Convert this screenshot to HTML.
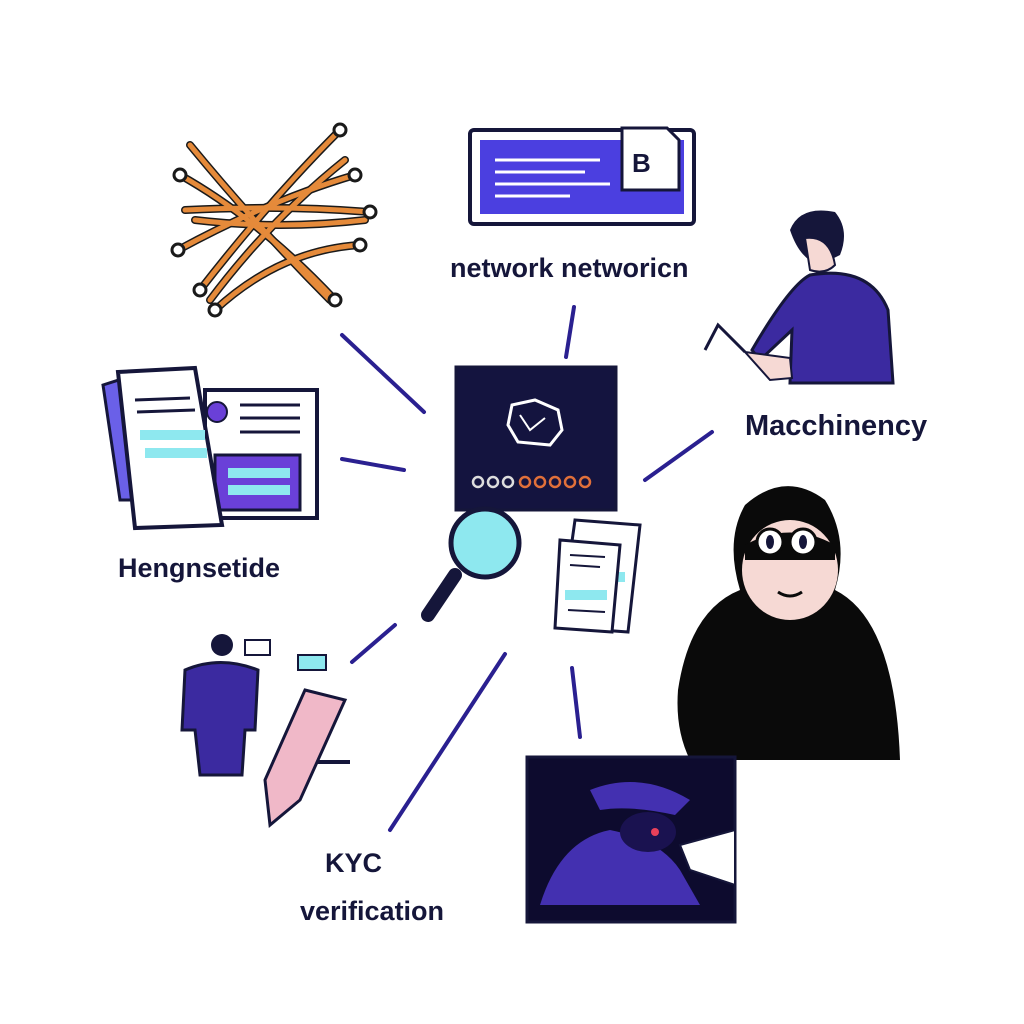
<!DOCTYPE html>
<html><head><style>
html,body{margin:0;padding:0;background:#fff;width:1024px;height:1024px;overflow:hidden}
svg{display:block}
text{font-family:"Liberation Sans",sans-serif;font-weight:bold;fill:#15163a}
</style></head><body>
<svg width="1024" height="1024" viewBox="0 0 1024 1024">
<rect width="1024" height="1024" fill="#fff"/>
<!-- connectors -->
<g stroke="#2a2090" stroke-width="4" stroke-linecap="round">
<line x1="342" y1="335" x2="424" y2="412"/>
<line x1="342" y1="459" x2="404" y2="470"/>
<line x1="574" y1="307" x2="566" y2="357"/>
<line x1="712" y1="432" x2="645" y2="480"/>
<line x1="395" y1="625" x2="352" y2="662"/>
<line x1="505" y1="654" x2="390" y2="830"/>
<line x1="572" y1="668" x2="580" y2="737"/>
</g>
<!-- tangle -->
<g stroke="#1a1a1a" stroke-width="8" stroke-linecap="round" fill="none">
<path d="M180 175 Q260 220 335 300"/><path d="M200 290 Q270 200 340 130"/>
<path d="M185 210 Q280 205 370 212"/><path d="M178 250 Q270 200 355 175"/>
<path d="M215 310 Q280 250 360 245"/><path d="M190 145 Q260 230 330 300"/>
<path d="M195 220 Q280 230 365 220"/><path d="M210 300 Q270 220 345 160"/>
</g>
<g stroke="#e58a3a" stroke-width="5" stroke-linecap="round" fill="none">
<path d="M180 175 Q260 220 335 300"/><path d="M200 290 Q270 200 340 130"/>
<path d="M185 210 Q280 205 370 212"/><path d="M178 250 Q270 200 355 175"/>
<path d="M215 310 Q280 250 360 245"/><path d="M190 145 Q260 230 330 300"/>
<path d="M195 220 Q280 230 365 220"/><path d="M210 300 Q270 220 345 160"/>
</g>
<g fill="#fff" stroke="#1a1a1a" stroke-width="3">
<circle cx="180" cy="175" r="6"/><circle cx="335" cy="300" r="6"/><circle cx="200" cy="290" r="6"/><circle cx="340" cy="130" r="6"/>
<circle cx="370" cy="212" r="6"/><circle cx="178" cy="250" r="6"/><circle cx="355" cy="175" r="6"/><circle cx="215" cy="310" r="6"/><circle cx="360" cy="245" r="6"/>
</g>
<!-- top panel -->
<rect x="470" y="130" width="224" height="94" rx="4" fill="#fff" stroke="#15163a" stroke-width="4"/>
<rect x="480" y="140" width="204" height="74" fill="#4b3fe0"/>
<g stroke="#fff" stroke-width="3"><line x1="495" y1="160" x2="600" y2="160"/><line x1="495" y1="172" x2="585" y2="172"/><line x1="495" y1="184" x2="610" y2="184"/><line x1="495" y1="196" x2="570" y2="196"/></g>
<path d="M622 128 h45 l12 12 v50 h-57z" fill="#fff" stroke="#15163a" stroke-width="3"/>
<text x="632" y="172" font-size="26" font-family="Liberation Serif" fill="#15163a">B</text>
<text x="450" y="277" font-size="27">network networicn</text>
<!-- man -->
<path d="M790 230 Q800 205 835 212 Q850 230 840 255 L820 265 Q800 260 790 230z" fill="#15163a"/>
<path d="M805 238 Q830 235 835 265 Q825 275 810 270z" fill="#f6d9d4" stroke="#15163a" stroke-width="2"/>
<path d="M810 275 Q870 265 888 310 L893 383 L790 383 L792 330 L760 360 L752 350 Q790 285 810 275z" fill="#3b2aa0" stroke="#15163a" stroke-width="3"/>
<path d="M745 352 L790 358 L792 378 L770 380 Z" fill="#f6d9d4" stroke="#15163a" stroke-width="2"/>
<path d="M705 350 L718 325 L745 352" fill="none" stroke="#15163a" stroke-width="3"/>
<text x="745" y="435" font-size="29">Macchinency</text>
<!-- center box -->
<rect x="456" y="367" width="160" height="143" fill="#14143f" stroke="#15163a" stroke-width="3"/>
<path d="M512 405 L535 400 L558 410 L562 430 L550 445 L518 442 L508 425Z" fill="none" stroke="#fff" stroke-width="3"/>
<path d="M520 415 L530 430 L545 418" fill="none" stroke="#fff" stroke-width="2"/>
<g fill="none" stroke="#e0703a" stroke-width="2.5">
<circle cx="525" cy="482" r="5"/><circle cx="540" cy="482" r="5"/><circle cx="555" cy="482" r="5"/><circle cx="570" cy="482" r="5"/><circle cx="585" cy="482" r="5"/></g>
<g fill="none" stroke="#ddd" stroke-width="2.5"><circle cx="478" cy="482" r="5"/><circle cx="493" cy="482" r="5"/><circle cx="508" cy="482" r="5"/></g>
<!-- magnifier -->
<line x1="455" y1="575" x2="428" y2="615" stroke="#15163a" stroke-width="14" stroke-linecap="round"/>
<circle cx="485" cy="543" r="34" fill="#8ee8ef" stroke="#15163a" stroke-width="5"/>
<!-- small docs -->
<path d="M575 520 L640 525 L628 632 L560 627z" fill="#fff" stroke="#15163a" stroke-width="3"/>
<rect x="575" y="572" width="50" height="10" fill="#8ee8ef"/>
<path d="M560 540 L620 545 L612 632 L555 628z" fill="#fff" stroke="#15163a" stroke-width="3"/>
<rect x="565" y="590" width="42" height="10" fill="#8ee8ef"/>
<g stroke="#15163a" stroke-width="2"><line x1="570" y1="555" x2="605" y2="557"/><line x1="570" y1="565" x2="600" y2="567"/><line x1="568" y1="610" x2="605" y2="612"/></g>
<!-- left docs -->
<rect x="205" y="390" width="112" height="128" fill="#fff" stroke="#15163a" stroke-width="4"/>
<rect x="215" y="455" width="85" height="55" fill="#6a40d8" stroke="#15163a" stroke-width="3"/>
<rect x="228" y="468" width="62" height="10" fill="#8ee8ef"/><rect x="228" y="485" width="62" height="10" fill="#8ee8ef"/>
<circle cx="217" cy="412" r="10" fill="#6a40d8" stroke="#15163a" stroke-width="2"/>
<path d="M103 385 L125 378 L140 500 L120 500z" fill="#6a60e8" stroke="#15163a" stroke-width="3"/>
<path d="M118 372 L195 368 L222 525 L135 528z" fill="#fff" stroke="#15163a" stroke-width="4"/>
<rect x="140" y="430" width="65" height="10" fill="#8ee8ef"/><rect x="145" y="448" width="62" height="10" fill="#8ee8ef"/>
<g stroke="#15163a" stroke-width="3"><line x1="135" y1="400" x2="190" y2="398"/><line x1="137" y1="412" x2="195" y2="410"/><line x1="240" y1="405" x2="300" y2="405"/><line x1="240" y1="418" x2="300" y2="418"/><line x1="240" y1="432" x2="300" y2="432"/></g>
<text x="118" y="577" font-size="27">Hengnsetide</text>
<!-- hooded -->
<path d="M678 690 Q690 610 740 590 Q725 540 745 505 Q785 470 825 500 Q850 540 835 590 Q895 620 900 760 L690 760 Q675 730 678 690z" fill="#0a0a0a"/>
<ellipse cx="790" cy="570" rx="48" ry="50" fill="#f6d9d4"/>
<path d="M745 545 Q790 520 835 545 L835 560 L745 560z" fill="#0a0a0a"/>
<circle cx="770" cy="542" r="13" fill="#fff" stroke="#0a0a0a" stroke-width="3"/><circle cx="803" cy="542" r="13" fill="#fff" stroke="#0a0a0a" stroke-width="3"/>
<ellipse cx="770" cy="542" rx="4" ry="7" fill="#15163a"/><ellipse cx="803" cy="542" rx="4" ry="7" fill="#15163a"/>
<path d="M778 592 Q790 600 802 592" fill="none" stroke="#0a0a0a" stroke-width="3"/>
<!-- bottom picture -->
<rect x="527" y="757" width="208" height="165" fill="#0d0b2e" stroke="#15163a" stroke-width="3"/>
<path d="M540 905 Q560 840 610 830 Q660 840 680 870 L700 905z" fill="#4330b0"/>
<path d="M590 790 Q640 770 690 800 L675 815 Q630 805 600 810z" fill="#4330b0"/>
<ellipse cx="648" cy="832" rx="28" ry="20" fill="#1a1250"/>
<circle cx="655" cy="832" r="4" fill="#e8405a"/>
<path d="M680 845 L735 830 L735 885 L690 870z" fill="#fff" stroke="#15163a" stroke-width="2"/>
<!-- bottom-left figure -->
<circle cx="222" cy="645" r="11" fill="#15163a"/>
<path d="M185 670 Q220 655 258 670 L255 730 L245 730 L242 775 L200 775 L195 730 L182 730z" fill="#3b2aa0" stroke="#15163a" stroke-width="3"/>
<rect x="272" y="760" width="78" height="4" fill="#15163a"/>
<path d="M245 640 h25 v15 h-25z" fill="#fff" stroke="#15163a" stroke-width="2"/>
<path d="M298 655 h28 v15 h-28z" fill="#8ee8ef" stroke="#15163a" stroke-width="2"/>
<path d="M305 690 L345 700 L300 800 L270 825 L265 780z" fill="#f0b8c8" stroke="#15163a" stroke-width="3"/>
<text x="325" y="872" font-size="27">KYC</text>
<text x="300" y="920" font-size="27">verification</text>
</svg>
</body></html>
